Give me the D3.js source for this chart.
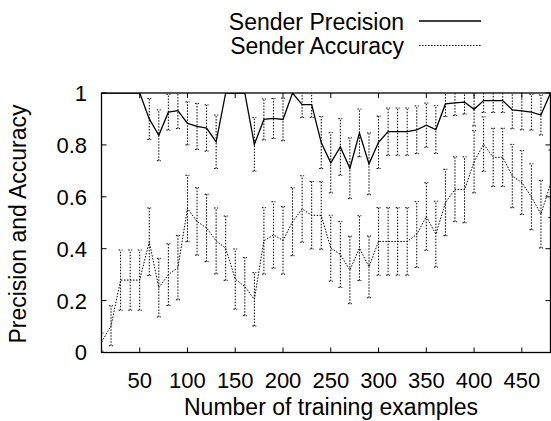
<!DOCTYPE html>
<html>
<head>
<meta charset="utf-8">
<script src="https://cdn.jsdelivr.net/npm/d3@7"></script>
<style>
  html, body { margin: 0; padding: 0; background: #fff; }
  svg text { font-family: "Liberation Sans", Arial, Helvetica, sans-serif; fill: #000; }
</style>
</head>
<body>
<div id="chart"></div>
<script>
// number of training examples (x)
const trainingSizes = [10, 20, 30, 40, 50, 60, 70, 80, 90, 100,
  110, 120, 130, 140, 150, 160, 170, 180, 190, 200,
  210, 220, 230, 240, 250, 260, 270, 280, 290, 300,
  310, 320, 330, 340, 350, 360, 370, 380, 390, 400,
  410, 420, 430, 440, 450, 460, 470, 480];

// Sender Precision (mean, error)
const precision = [1, 1, 1, 1, 1, 0.90, 0.837, 0.926, 0.932, 0.883,
  0.871, 0.865, 0.812, 1, 1, 1, 0.802, 0.898, 0.902, 0.898,
  1, 0.955, 0.955, 0.809, 0.731, 0.792, 0.71, 0.846, 0.727, 0.81,
  0.851, 0.851, 0.851, 0.858, 0.876, 0.859, 0.958, 0.962, 0.965, 0.937,
  0.971, 0.971, 0.971, 0.935, 0.931, 0.926, 0.915, 1];
const precisionErr = [0, 0, 0, 0, 0, 0.079, 0.098, 0.069, 0.069, 0.083,
  0.089, 0.089, 0.103, 0, 0, 0, 0.103, 0.079, 0.077, 0.082,
  0, 0.05, 0.049, 0.1, 0.116, 0.109, 0.117, 0.092, 0.119, 0.101,
  0.091, 0.091, 0.091, 0.092, 0.085, 0.092, 0.049, 0.049, 0.046, 0.064,
  0.046, 0.046, 0.046, 0.073, 0.073, 0.069, 0.077, 0];

// Sender Accuracy (mean, error)
const accuracy = [0.04, 0.103, 0.279, 0.279, 0.279, 0.427, 0.25, 0.30, 0.327, 0.555,
  0.505, 0.48, 0.43, 0.402, 0.283, 0.254, 0.205, 0.43, 0.453, 0.432,
  0.504, 0.553, 0.529, 0.528, 0.402, 0.378, 0.318, 0.402, 0.33, 0.428,
  0.428, 0.428, 0.428, 0.455, 0.524, 0.456, 0.578, 0.629, 0.627, 0.735,
  0.803, 0.752, 0.752, 0.68, 0.655, 0.6, 0.533, 0.65];
const accuracyErr = [0.035, 0.077, 0.116, 0.116, 0.116, 0.13, 0.113, 0.119, 0.124, 0.128,
  0.13, 0.13, 0.127, 0.124, 0.116, 0.112, 0.103, 0.128, 0.128, 0.13,
  0.131, 0.128, 0.13, 0.13, 0.127, 0.127, 0.13, 0.125, 0.119, 0.13,
  0.13, 0.13, 0.13, 0.127, 0.13, 0.127, 0.128, 0.125, 0.127, 0.12,
  0.105, 0.112, 0.112, 0.122, 0.123, 0.127, 0.13, 0.13];

const xTicks = [50, 100, 150, 200, 250, 300, 350, 400, 450];
const yTicks = [0, 0.2, 0.4, 0.6, 0.8, 1];
const yTickLabels = ['0', '0.2', '0.4', '0.6', '0.8', '1'];

const seriesNames = ['Sender Precision', 'Sender Accuracy'];

// canvas
const W = 551, H = 421;
const plotLeft = 101.5, plotRight = 550.5, plotTop = 93, plotBottom = 352.5;
const tickFont = 22;
const titleFont = 23;

const svg = d3.select('#chart')
  .append('svg')
  .attr('width', W)
  .attr('height', H);

const x = d3.scaleLinear().domain([10, 480]).range([plotLeft, plotRight]);
const y = d3.scaleLinear().domain([0, 1]).range([plotBottom, plotTop]);

svg.append('defs').append('clipPath')
  .attr('id', 'plotClip')
  .append('rect')
  .attr('x', plotLeft).attr('y', plotTop)
  .attr('width', plotRight - plotLeft).attr('height', plotBottom - plotTop);

// build rows
const precRows = trainingSizes.map((n, i) => ({ n, v: precision[i], e: precisionErr[i] }));
const accRows = trainingSizes.map((n, i) => ({ n, v: accuracy[i], e: accuracyErr[i] }));

const plot = svg.append('g').attr('clip-path', 'url(#plotClip)');

// error bars (dotted, with small caps)
function drawErrorBars(rows) {
  const g = plot.append('g')
    .attr('fill', 'none')
    .attr('stroke', '#000')
    .attr('stroke-width', 1)
    .attr('stroke-dasharray', '1.5,1.5');
  const withErr = rows.filter(d => d.e > 0);
  g.selectAll('line.bar')
    .data(withErr)
    .enter()
    .append('line')
      .attr('class', 'bar')
      .attr('x1', d => x(d.n)).attr('x2', d => x(d.n))
      .attr('y1', d => y(d.v - d.e)).attr('y2', d => y(d.v + d.e));
  g.selectAll('line.capTop')
    .data(withErr)
    .enter()
    .append('line')
      .attr('class', 'capTop')
      .attr('x1', d => x(d.n) - 2).attr('x2', d => x(d.n) + 2)
      .attr('y1', d => y(d.v + d.e)).attr('y2', d => y(d.v + d.e));
  g.selectAll('line.capBot')
    .data(withErr)
    .enter()
    .append('line')
      .attr('class', 'capBot')
      .attr('x1', d => x(d.n) - 2).attr('x2', d => x(d.n) + 2)
      .attr('y1', d => y(d.v - d.e)).attr('y2', d => y(d.v - d.e));
}

drawErrorBars(precRows);
drawErrorBars(accRows);

const line = d3.line()
  .x(d => x(d.n))
  .y(d => y(d.v));

plot.append('path')
  .datum(accRows)
  .attr('fill', 'none')
  .attr('stroke', '#000')
  .attr('stroke-width', 1)
  .attr('stroke-dasharray', '1.5,1.5')
  .attr('d', line);

plot.append('path')
  .datum(precRows)
  .attr('fill', 'none')
  .attr('stroke', '#000')
  .attr('stroke-width', 1.3)
  .attr('d', line);

// border with mirrored inward ticks
svg.append('rect')
  .attr('x', plotLeft).attr('y', plotTop)
  .attr('width', plotRight - plotLeft).attr('height', plotBottom - plotTop)
  .attr('fill', 'none')
  .attr('stroke', '#000')
  .attr('stroke-width', 1.3);

const tickLen = 5;
const ticks = svg.append('g').attr('stroke', '#000').attr('stroke-width', 1);
xTicks.forEach(t => {
  ticks.append('line').attr('x1', x(t)).attr('x2', x(t)).attr('y1', plotBottom).attr('y2', plotBottom - tickLen);
  ticks.append('line').attr('x1', x(t)).attr('x2', x(t)).attr('y1', plotTop).attr('y2', plotTop + tickLen);
});
yTicks.forEach(t => {
  ticks.append('line').attr('x1', plotLeft).attr('x2', plotLeft + tickLen).attr('y1', y(t)).attr('y2', y(t));
  ticks.append('line').attr('x1', plotRight).attr('x2', plotRight - tickLen).attr('y1', y(t)).attr('y2', y(t));
});

// tick labels
svg.append('g').selectAll('text')
  .data(xTicks)
  .enter()
  .append('text')
    .attr('x', d => x(d))
    .attr('y', 388)
    .attr('text-anchor', 'middle')
    .attr('font-size', tickFont)
    .text(d => d);

svg.append('g').selectAll('text')
  .data(yTicks)
  .enter()
  .append('text')
    .attr('x', 87)
    .attr('y', d => y(d))
    .attr('dy', '0.36em')
    .attr('text-anchor', 'end')
    .attr('font-size', tickFont)
    .text((d, i) => yTickLabels[i]);

// axis titles
svg.append('text')
  .attr('x', 331)
  .attr('y', 415)
  .attr('text-anchor', 'middle')
  .attr('font-size', titleFont)
  .text('Number of training examples');

svg.append('text')
  .attr('transform', 'rotate(-90)')
  .attr('x', -224)
  .attr('y', 26)
  .attr('text-anchor', 'middle')
  .attr('font-size', titleFont)
  .text('Precision and Accuracy');

// legend
const legend = svg.append('g');
[0, 1].forEach(i => {
  const baseY = i === 0 ? 30 : 53.5;
  const lineY = i === 0 ? 21 : 45.5;
  legend.append('text')
    .attr('x', 404)
    .attr('y', baseY)
    .attr('text-anchor', 'end')
    .attr('font-size', titleFont)
    .text(seriesNames[i]);
  legend.append('line')
    .attr('x1', 419).attr('x2', 481)
    .attr('y1', lineY).attr('y2', lineY)
    .attr('stroke', '#000')
    .attr('stroke-width', i === 0 ? 1.3 : 1)
    .attr('stroke-dasharray', i === 0 ? null : '1.5,1.5');
});
</script>
</body>
</html>
